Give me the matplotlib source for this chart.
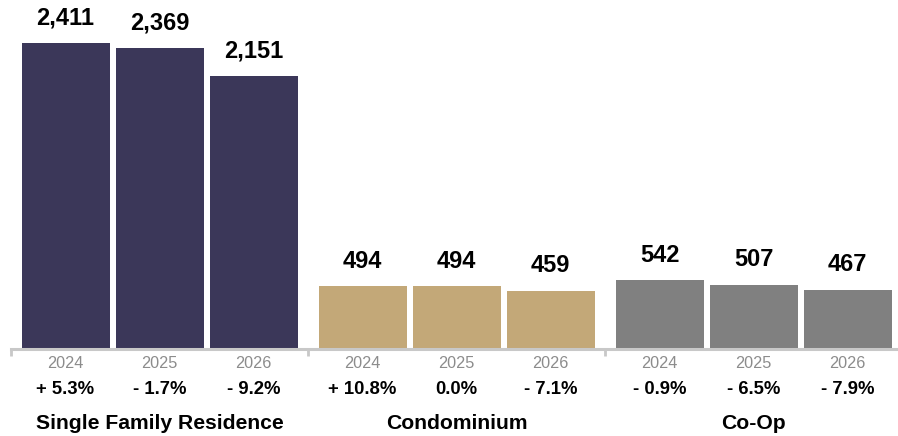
import numpy as np
import matplotlib.pyplot as plt

plt.rcParams['font.family'] = ['Liberation Sans', 'DejaVu Sans']

groups = ['Single Family Residence', 'Condominium', 'Co-Op']
years = ['2024', '2025', '2026']
sfr = [2411, 2369, 2151]
condo = [494, 494, 459]
coop = [542, 507, 467]
changes = [['+ 5.3%', '- 1.7%', '- 9.2%'],
           ['+ 10.8%', '0.0%', '- 7.1%'],
           ['- 0.9%', '- 6.5%', '- 7.9%']]
colors = ['#3b3759', '#c3a878', '#808080']

values = [sfr, condo, coop]
step = 3.16      # group spacing, in bar units
offset = 0.58    # first bar centre from group start
width = 0.936

fig = plt.figure(figsize=(8.98, 4.36), dpi=100)
ax = fig.add_axes([11/898, 87/436, 887/898, 349/436])

for g in range(len(groups)):
    x = g*step + offset + np.arange(len(years))
    ax.bar(x, values[g], width=width, color=colors[g])
    for j in range(len(years)):
        ax.annotate(f'{values[g][j]:,}', xy=(x[j], values[g][j]), xytext=(0, 18),
                    textcoords='offset points', ha='center', va='center',
                    fontsize=17, fontweight='bold', color='black')
        ax.annotate(years[j], xy=(x[j], 0), xytext=(0, -10.5),
                    textcoords='offset points', ha='center', va='center',
                    fontsize=11.7, color='#8c8c8c', annotation_clip=False)
        ax.annotate(changes[g][j], xy=(x[j], 0), xytext=(0, -29),
                    textcoords='offset points', ha='center', va='center',
                    fontsize=13.3, fontweight='bold', color='black', annotation_clip=False)
    ax.annotate(groups[g], xy=(x[1], 0), xytext=(0, -53.5),
                textcoords='offset points', ha='center', va='center',
                fontsize=15.2, fontweight='bold', color='black', annotation_clip=False)

ax.set_xlim(0, 887/94)
ax.set_ylim(0, 2750)
for s in ['top', 'right', 'left']:
    ax.spines[s].set_visible(False)
ax.spines['bottom'].set_color('#c8c8c8')
ax.spines['bottom'].set_linewidth(2.2)
ax.set_xticks([g*step for g in range(len(groups))])
ax.set_xticklabels([])
ax.tick_params(axis='x', direction='out', length=5, width=2, color='#c8c8c8')
ax.set_yticks([])

fig.savefig('out.png', dpi=100)
